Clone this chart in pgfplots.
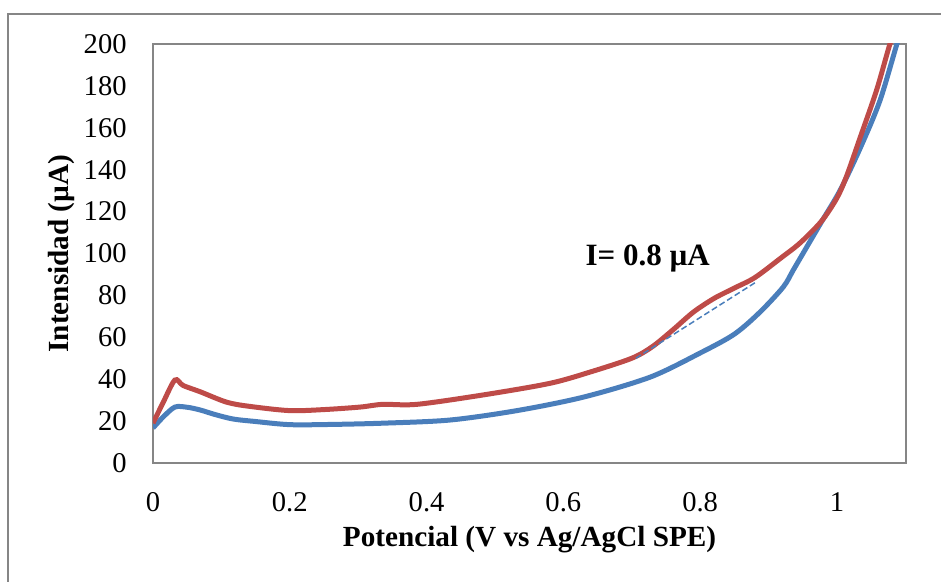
\documentclass[border=0pt]{standalone}
\usepackage{fontspec}
\setmainfont{Liberation Serif}
\usepackage{pgfplots}
\pgfplotsset{compat=1.18}
\definecolor{exblue}{HTML}{4A7EBB}
\definecolor{exred}{HTML}{BE4B48}
\definecolor{framegray}{HTML}{868686}
\begin{document}
\fontsize{14.3}{17}\selectfont
\begin{tikzpicture}
\useasboundingbox (0,0) rectangle (470.5pt,291pt);
\draw[framegray, line width=1pt] (4pt,0) -- (4pt,284pt) -- (470.5pt,284pt);
\begin{axis}[name=ax, at={(76.5pt,59.5pt)}, anchor=south west,
  scale only axis, width=376.5pt, height=209.5pt,
  xmin=0, xmax=1.101, ymin=0, ymax=200,
  xtick={0,0.2,0.4,0.6,0.8,1}, ytick={0,20,40,60,80,100,120,140,160,180,200},
  major tick length=0pt,
  axis line style={framegray, line width=1pt},
  tick label style={font=\fontsize{14.3}{17}\selectfont},
  /pgf/number format/assume math mode=true,
  xticklabel style={inner sep=0pt, yshift=-14.5pt},
  yticklabel style={inner sep=0pt, xshift=-13pt},
  clip=true]
\addplot[exblue, line width=2.5pt, smooth] coordinates {
(0,16.7) (0.015,22) (0.032,26.7) (0.05,26.6) (0.069,25.3) (0.09,23.2) (0.117,21)
(0.15,19.8) (0.2,18.3) (0.26,18.4) (0.336,19) (0.434,20.5) (0.532,25) (0.63,31.5)
(0.727,41) (0.8,52.5) (0.85,61.5) (0.8874,72) (0.9215,84) (0.936,92) (0.9557,103)
(0.9776,115.2) (1.0044,130) (1.0336,150) (1.0629,173) (1.0896,202) (1.1,210)};
\addplot[exred, line width=2.5pt, smooth] coordinates {
(0,19) (0.015,29) (0.032,39.6) (0.044,37) (0.069,34) (0.108,29) (0.142,27)
(0.2,25) (0.25,25.5) (0.303,26.7) (0.336,28) (0.386,28) (0.483,32.5) (0.58,38)
(0.64,43.5) (0.7,50) (0.73,55.5) (0.76,63.5) (0.79,72) (0.82,78.5) (0.85,83.5)
(0.88,88.5) (0.9167,97.5) (0.946,105) (0.9776,115.5) (1.0,126.5)
(1.0142,137) (1.0336,155) (1.058,178) (1.0775,200) (1.09,211)};
\addplot[exblue, line width=0.75pt, dash pattern=on 3pt off 1.5pt] coordinates {(0.706,50) (0.88,86)};
\node[anchor=base west, inner sep=0pt, font=\fontsize{15.5}{18}\selectfont\bfseries] at (axis cs:0.632,94.5) {I= 0.8 µA};
\end{axis}
\node[anchor=north, inner sep=0pt, font=\fontsize{14.6}{17}\selectfont\bfseries] at ([yshift=-31.5pt]ax.south) {Potencial (V vs Ag/AgCl SPE)};
\node[rotate=90, anchor=south, inner sep=0pt, font=\fontsize{14.6}{17}\selectfont\bfseries] at ([xshift=-39pt]ax.west) {Intensidad (µA)};
\end{tikzpicture}
\end{document}
